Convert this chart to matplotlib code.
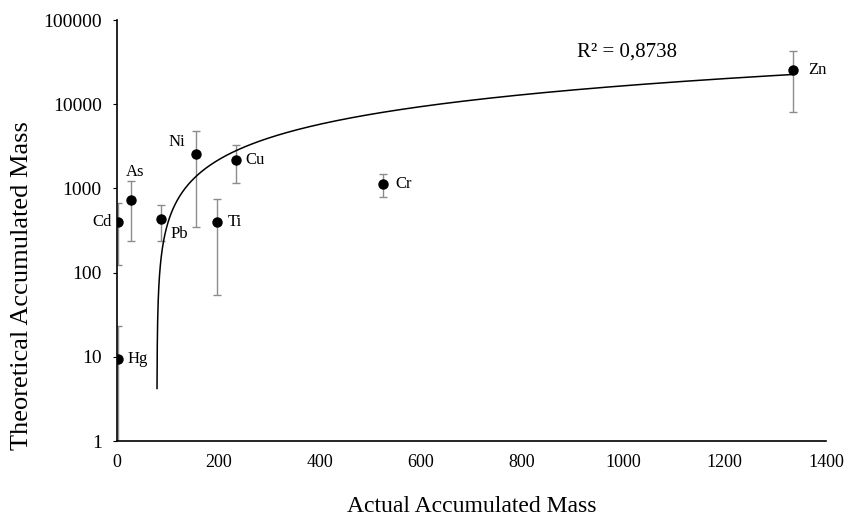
import numpy as np
import matplotlib
matplotlib.use("Agg")
import matplotlib.pyplot as plt
from matplotlib.ticker import FuncFormatter, FixedLocator

# data
metals = ["Hg", "Cd", "As", "Pb", "Ni", "Ti", "Cu", "Cr", "Zn"]
actual = [1, 1, 28, 87, 156, 197, 235, 525, 1334]
theoretical = [9.5, 395, 740, 440, 2600, 405, 2200, 1140, 25500]
err = [13.5, 270, 500, 200, 2250, 350, 1050, 350, 17300]

# label offsets in points and alignment
label_pos = {
    "Hg": (7, 0, "left"),
    "Cd": (-4, 0, "right"),
    "As": (3, 20, "center"),
    "Pb": (7, -11, "left"),
    "Ni": (-8, 8, "right"),
    "Ti": (8, 0, "left"),
    "Cu": (7, 0, "left"),
    "Cr": (9, 0, "left"),
    "Zn": (11, 0, "left"),
}

plt.rcParams["font.family"] = ["Liberation Serif", "DejaVu Serif"]

x = np.array(actual, dtype=float)
y = np.array(theoretical, dtype=float)
e = np.array(err, dtype=float)

fig = plt.figure(figsize=(8.48, 5.17), dpi=100)
ax = fig.add_axes([0.138, 0.147, 0.836, 0.814])

# error bars (lower part clipped on log axis)
lower = np.minimum(e, y - 1e-3)
ax.errorbar(x, y, yerr=[lower, e], fmt="none", ecolor="#8c8c8c",
            elinewidth=1, capsize=3, capthick=1, zorder=2)
ax.plot(x, y, "o", color="black", markersize=6.5, zorder=4)

# linear trendline (shown on log axis)
coef = np.polyfit(x, y, 1)
xt = np.linspace(x.min(), x.max(), 20000)
yt = np.polyval(coef, xt)
keep = yt > 3.5
ax.plot(xt[keep], yt[keep], color="black", linewidth=1.1, zorder=3)

for name, xi, yi in zip(metals, x, y):
    dx, dy, ha = label_pos[name]
    ax.annotate(name, (xi, yi), xytext=(dx, dy), textcoords="offset points",
                ha=ha, va="center", fontsize=12)

ax.text(908, 42000, "R² = 0,8738", fontsize=15, va="center", ha="left")

ax.set_yscale("log")
ax.set_xlim(0, 1400)
ax.set_ylim(1, 100000)
ax.set_xticks(range(0, 1401, 200))
ax.yaxis.set_major_locator(FixedLocator([1, 10, 100, 1000, 10000, 100000]))
ax.yaxis.set_minor_locator(FixedLocator([]))
ax.yaxis.set_major_formatter(FuncFormatter(lambda v, p: "%d" % v))

ax.spines["top"].set_visible(False)
ax.spines["right"].set_visible(False)
for s in ["left", "bottom"]:
    ax.spines[s].set_linewidth(1.2)

ax.tick_params(axis="x", length=0, pad=9, labelsize=13)
ax.tick_params(axis="y", length=3, direction="out", pad=8, labelsize=14)

ax.set_xlabel("Actual Accumulated Mass", fontsize=17)
ax.set_ylabel("Theoretical Accumulated Mass", fontsize=19)
ax.xaxis.set_label_coords(0.5, -0.13)
ax.yaxis.set_label_coords(-0.118, 0.37)

fig.savefig("out.png", dpi=100)
